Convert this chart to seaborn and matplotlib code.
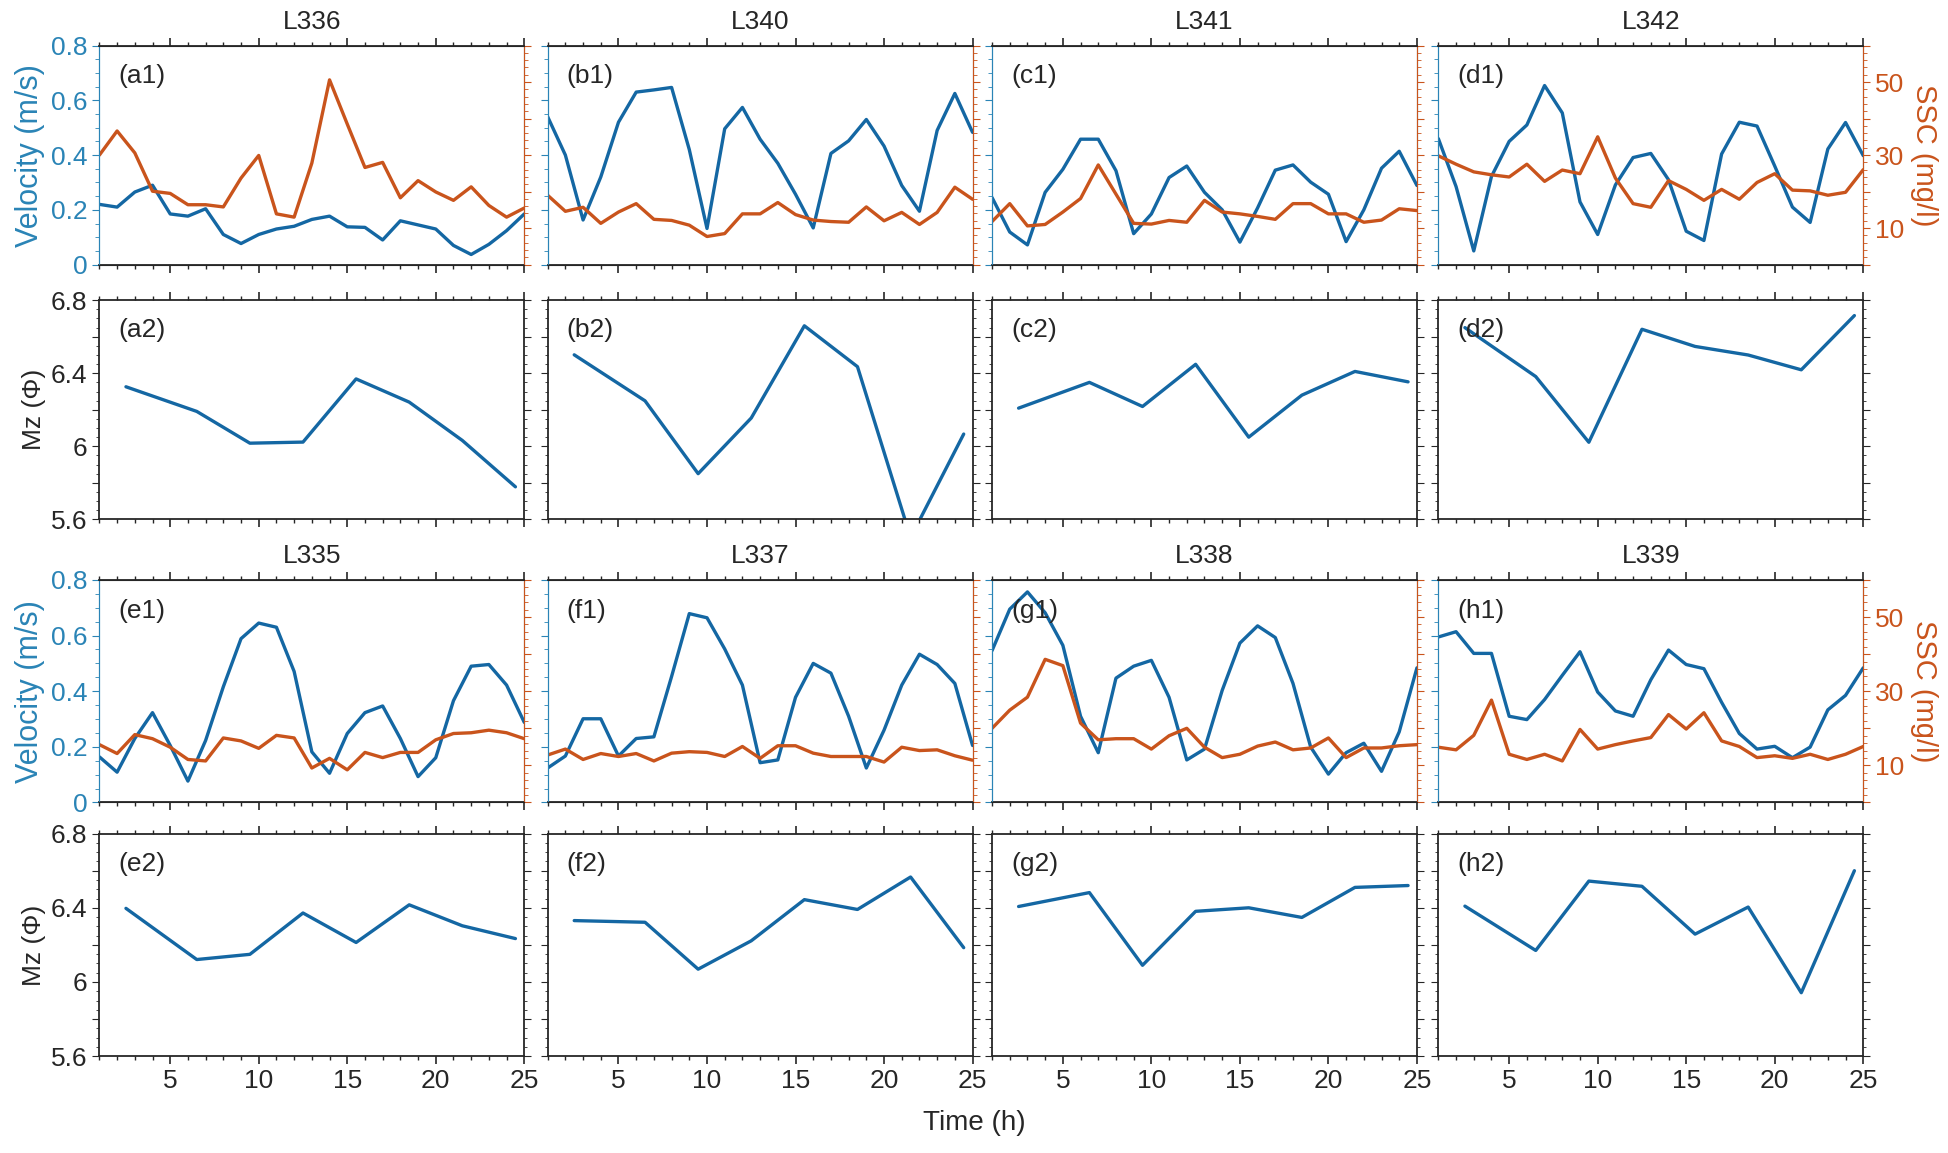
"""
Velocity / SSC / Mz time series at eight stations.
"""

import numpy as np
import pandas as pd
import matplotlib
matplotlib.use("Agg")
import matplotlib.pyplot as plt
from matplotlib.ticker import MultipleLocator, FixedLocator, FixedFormatter
import seaborn as sns

# ---- data ----
hours = list(range(1, 26))
mz_hours = [2.5, 6.5, 9.5, 12.5, 15.5, 18.5, 21.5, 24.5]

top_stations = ["L336", "L340", "L341", "L342"]
bottom_stations = ["L335", "L337", "L338", "L339"]

vel_L336 = [0.22, 0.21, 0.265, 0.29, 0.185, 0.177, 0.204, 0.11, 0.077, 0.11, 0.13, 0.14, 0.165,
            0.177, 0.138, 0.136, 0.09, 0.16, 0.145, 0.13, 0.07, 0.037, 0.074, 0.124, 0.185]
ssc_L336 = [30.0, 36.6, 30.6, 20.1, 19.5, 16.4, 16.4, 15.8, 23.7, 29.9, 13.9, 13.0, 27.8,
            50.6, 38.5, 26.6, 28.0, 18.3, 23.0, 19.9, 17.6, 21.3, 16.2, 13.0, 15.5]
mz_L336 = [6.326, 6.191, 6.017, 6.023, 6.369, 6.242, 6.032, 5.778]

vel_L340 = [0.54, 0.40, 0.163, 0.32, 0.52, 0.63, 0.638, 0.647, 0.42, 0.132, 0.496, 0.574, 0.458,
            0.37, 0.257, 0.134, 0.406, 0.452, 0.53, 0.433, 0.289, 0.195, 0.49, 0.625, 0.483]
ssc_L340 = [19.0, 14.6, 15.7, 11.3, 14.4, 16.7, 12.4, 12.1, 10.8, 7.7, 8.5, 13.9, 13.9,
            17.0, 13.7, 12.2, 11.8, 11.6, 15.8, 12.0, 14.3, 11.0, 14.3, 21.2, 17.9]
mz_L340 = [6.501, 6.249, 5.85, 6.155, 6.66, 6.436, 5.5, 6.067]

vel_L341 = [0.245, 0.119, 0.072, 0.264, 0.348, 0.458, 0.458, 0.343, 0.113, 0.185, 0.318, 0.36, 0.264,
            0.2, 0.082, 0.207, 0.345, 0.364, 0.301, 0.257, 0.084, 0.2, 0.352, 0.414, 0.289]
ssc_L341 = [11.8, 16.7, 10.6, 11.0, 14.4, 18.1, 27.3, 19.3, 11.3, 11.1, 12.1, 11.6, 17.6,
            14.4, 13.9, 13.2, 12.4, 16.7, 16.7, 13.9, 13.9, 11.6, 12.2, 15.3, 14.8]
mz_L341 = [6.209, 6.35, 6.218, 6.449, 6.05, 6.28, 6.41, 6.353]

vel_L342 = [0.46, 0.285, 0.05, 0.322, 0.45, 0.51, 0.654, 0.554, 0.229, 0.11, 0.291, 0.391, 0.406,
            0.31, 0.122, 0.088, 0.404, 0.52, 0.506, 0.36, 0.21, 0.154, 0.422, 0.519, 0.398]
ssc_L342 = [29.8, 27.5, 25.4, 24.6, 24.0, 27.5, 22.8, 25.9, 24.9, 35.0, 23.7, 16.7, 15.7,
            23.0, 20.6, 17.6, 20.6, 17.9, 22.5, 24.9, 20.4, 20.2, 19.0, 19.8, 26.0]
mz_L342 = [6.65, 6.382, 6.022, 6.641, 6.547, 6.5, 6.419, 6.716]

vel_L335 = [0.164, 0.109, 0.23, 0.323, 0.205, 0.077, 0.223, 0.416, 0.589, 0.645, 0.63, 0.471, 0.182,
            0.105, 0.248, 0.323, 0.347, 0.23, 0.093, 0.161, 0.366, 0.49, 0.496, 0.422, 0.288]
ssc_L335 = [15.6, 13.2, 18.3, 17.2, 14.9, 11.6, 11.2, 17.4, 16.6, 14.6, 18.1, 17.4, 9.3,
            11.9, 8.8, 13.5, 12.1, 13.5, 13.5, 16.9, 18.6, 18.8, 19.5, 18.8, 17.2]
mz_L335 = [6.397, 6.121, 6.149, 6.372, 6.213, 6.416, 6.303, 6.234]

vel_L337 = [0.124, 0.167, 0.301, 0.301, 0.167, 0.23, 0.236, 0.453, 0.679, 0.664, 0.552, 0.422, 0.143,
            0.153, 0.378, 0.5, 0.465, 0.31, 0.124, 0.26, 0.422, 0.533, 0.496, 0.428, 0.205]
ssc_L337 = [12.8, 14.4, 11.6, 13.2, 12.4, 13.2, 11.2, 13.3, 13.7, 13.5, 12.4, 15.1, 11.9,
            15.3, 15.3, 13.3, 12.4, 12.4, 12.4, 10.9, 14.9, 14.0, 14.2, 12.6, 11.4]
mz_L337 = [6.331, 6.322, 6.069, 6.222, 6.444, 6.391, 6.566, 6.185]

vel_L338 = [0.546, 0.695, 0.757, 0.682, 0.565, 0.31, 0.179, 0.447, 0.49, 0.511, 0.378, 0.153, 0.192,
            0.403, 0.573, 0.635, 0.593, 0.428, 0.199, 0.102, 0.179, 0.213, 0.112, 0.254, 0.484]
ssc_L338 = [20.0, 24.9, 28.4, 38.6, 36.9, 21.4, 16.9, 17.2, 17.2, 14.4, 18.0, 20.0, 14.9,
            12.1, 13.0, 15.2, 16.3, 14.2, 14.7, 17.4, 12.1, 14.7, 14.7, 15.3, 15.6]
mz_L338 = [6.407, 6.482, 6.09, 6.381, 6.4, 6.348, 6.51, 6.52]

vel_L339 = [0.595, 0.614, 0.536, 0.536, 0.31, 0.298, 0.37, 0.457, 0.542, 0.397, 0.329, 0.31, 0.441,
            0.548, 0.496, 0.481, 0.36, 0.248, 0.192, 0.202, 0.161, 0.199, 0.333, 0.385, 0.484]
ssc_L339 = [14.9, 14.2, 18.1, 27.6, 13.0, 11.6, 13.0, 11.2, 19.7, 14.4, 15.6, 16.6, 17.5,
            23.7, 19.8, 24.2, 16.6, 15.1, 12.1, 12.6, 11.9, 13.0, 11.6, 13.0, 15.1]
mz_L339 = [6.409, 6.17, 6.544, 6.516, 6.258, 6.404, 5.942, 6.6]

velocity = {"L336": vel_L336, "L340": vel_L340, "L341": vel_L341, "L342": vel_L342,
            "L335": vel_L335, "L337": vel_L337, "L338": vel_L338, "L339": vel_L339}
ssc = {"L336": ssc_L336, "L340": ssc_L340, "L341": ssc_L341, "L342": ssc_L342,
       "L335": ssc_L335, "L337": ssc_L337, "L338": ssc_L338, "L339": ssc_L339}
mz = {"L336": mz_L336, "L340": mz_L340, "L341": mz_L341, "L342": mz_L342,
      "L335": mz_L335, "L337": mz_L337, "L338": mz_L338, "L339": mz_L339}

# ---- style ----
sns.set_style("ticks")
plt.rcParams['font.family'] = ['Liberation Sans', 'DejaVu Sans']

BLUE = '#1467a3'
BLUE_TXT = '#2a84b6'
ORANGE = '#c9541c'
FS = 19          # tick labels, titles, panel tags
FS_VEL = 22      # velocity axis label
FS_SSC = 21      # SSC axis label

fig = plt.figure(figsize=(19.49, 11.53), dpi=100)

lefts = [0.051, 0.281, 0.509, 0.738]
width = 0.218
rows = [(0.7705, 0.19), (0.5496, 0.19), (0.304, 0.193), (0.084, 0.193)]


def style_x(ax, show_labels):
    ax.set_xlim(1, 25)
    ax.xaxis.set_major_locator(MultipleLocator(5))
    ax.xaxis.set_minor_locator(MultipleLocator(1))
    ax.tick_params(axis='x', which='both', top=True, direction='out',
                   labelbottom=show_labels, labelsize=FS)
    ax.tick_params(axis='x', which='major', length=6, width=1.2)
    ax.tick_params(axis='x', which='minor', length=3, width=1)
    ax.set_xlabel('')


def vel_panel(ax, station, letter, col):
    df = pd.DataFrame({'hour': hours, 'vel': velocity[station], 'ssc': ssc[station]})
    sns.lineplot(data=df, x='hour', y='vel', ax=ax, color=BLUE, lw=2.4)
    ax.set_ylim(0, 0.8)
    ax.yaxis.set_major_locator(MultipleLocator(0.2))
    ax.yaxis.set_minor_locator(MultipleLocator(0.05))
    ax.yaxis.set_major_formatter(plt.FuncFormatter(lambda v, p: '0' if abs(v) < 1e-9 else f'{v:.1f}'))
    ax.tick_params(axis='y', which='both', colors=BLUE_TXT, direction='out',
                   labelleft=(col == 0), labelsize=FS)
    ax.tick_params(axis='y', which='major', length=5)
    ax.tick_params(axis='y', which='minor', length=3)
    ax.spines['left'].set_color(BLUE_TXT)
    style_x(ax, False)
    ax.set_ylabel('Velocity (m/s)' if col == 0 else '', color=BLUE_TXT, fontsize=FS_VEL,
                  labelpad=4)

    ax2 = ax.twinx()
    sns.lineplot(data=df, x='hour', y='ssc', ax=ax2, color=ORANGE, lw=2.4)
    ax2.set_ylim(0, 60)
    ax2.yaxis.set_major_locator(MultipleLocator(10))
    ax2.yaxis.set_minor_locator(MultipleLocator(2))
    ax2.yaxis.set_major_formatter(plt.FuncFormatter(
        lambda v, p: f'{int(round(v))}' if int(round(v)) in (10, 30, 50) else ''))
    ax2.tick_params(axis='y', which='both', colors=ORANGE, direction='out',
                    labelright=(col == 3), labelsize=FS)
    ax2.tick_params(axis='y', which='major', length=5)
    ax2.tick_params(axis='y', which='minor', length=3)
    ax2.spines['right'].set_color(ORANGE)
    ax2.spines['left'].set_color(BLUE_TXT)
    ax2.set_xlabel('')
    ax2.set_ylabel('SSC (mg/l)' if col == 3 else '', color=ORANGE, fontsize=FS_SSC,
                   rotation=270, labelpad=24)
    ax.text(0.045, 0.83, f'({letter}1)', transform=ax.transAxes, fontsize=FS)
    ax.set_title(station, fontsize=FS, pad=12)
    for s in ['top', 'bottom']:
        ax.spines[s].set_linewidth(1.3)


def mz_panel(ax, station, letter, col, show_x):
    df = pd.DataFrame({'hour': mz_hours, 'mz': mz[station]})
    sns.lineplot(data=df, x='hour', y='mz', ax=ax, color=BLUE, lw=2.4)
    ax.set_ylim(5.6, 6.8)
    ax.yaxis.set_major_locator(FixedLocator([5.6, 5.8, 6.0, 6.2, 6.4, 6.6, 6.8]))
    ax.yaxis.set_major_formatter(FixedFormatter(['5.6', '', '6', '', '6.4', '', '6.8']))
    ax.yaxis.set_minor_locator(MultipleLocator(0.05))
    ax.tick_params(axis='y', which='both', right=True, direction='out',
                   labelleft=(col == 0), labelsize=FS)
    ax.tick_params(axis='y', which='major', length=5)
    ax.tick_params(axis='y', which='minor', length=2.5)
    style_x(ax, show_x)
    ax.set_ylabel('Mz (Φ)' if col == 0 else '', fontsize=FS)
    ax.text(0.045, 0.83, f'({letter}2)', transform=ax.transAxes, fontsize=FS)
    for s in ax.spines.values():
        s.set_linewidth(1.3)


letters_top = ['a', 'b', 'c', 'd']
letters_bottom = ['e', 'f', 'g', 'h']

for col in range(4):
    b, h = rows[0]
    ax = fig.add_axes([lefts[col], b, width, h])
    vel_panel(ax, top_stations[col], letters_top[col], col)
    b, h = rows[1]
    ax = fig.add_axes([lefts[col], b, width, h])
    mz_panel(ax, top_stations[col], letters_top[col], col, False)
    b, h = rows[2]
    ax = fig.add_axes([lefts[col], b, width, h])
    vel_panel(ax, bottom_stations[col], letters_bottom[col], col)
    b, h = rows[3]
    ax = fig.add_axes([lefts[col], b, width, h])
    mz_panel(ax, bottom_stations[col], letters_bottom[col], col, True)

fig.text(0.5, 0.015, 'Time (h)', ha='center', va='bottom', fontsize=FS + 1)

fig.savefig('out.png', dpi=100)
